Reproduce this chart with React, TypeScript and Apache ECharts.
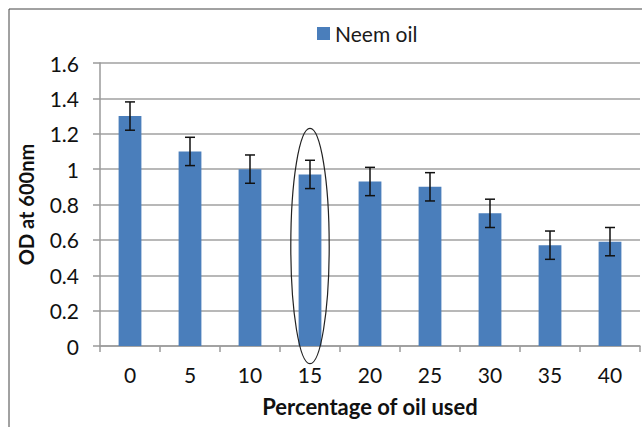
import React, { useEffect, useRef } from "react";
import * as echarts from "echarts";

const categories = ["0", "5", "10", "15", "20", "25", "30", "35", "40"];
const odValues = [1.3, 1.1, 1.0, 0.97, 0.93, 0.9, 0.75, 0.57, 0.59];
const errorValues = [0.08, 0.08, 0.08, 0.08, 0.08, 0.08, 0.08, 0.08, 0.08];
const seriesName = "Neem oil";
const xTitle = "Percentage of oil used";
const yTitle = "OD at 600nm";
const highlightCategory = 3;
const ellipseTopValue = 1.23;
const ellipseBottomValue = -0.1;

const FONT = "Lato, 'Open Sans', sans-serif";

export default function App() {
  const ref = useRef<HTMLDivElement>(null);

  useEffect(() => {
    if (!ref.current) return;
    const chart = echarts.init(ref.current, null, { renderer: "svg" });
    const errData = odValues.map((v, i) => [i, v - errorValues[i], v + errorValues[i]]);
    const frame = {
      id: "frame",
      type: "rect",
      silent: true,
      shape: { x: 9, y: 9, width: 700, height: 500 },
      style: { fill: "none", stroke: "#444", lineWidth: 1 },
    };
    chart.setOption({
      animation: false,
      backgroundColor: "#ffffff",
      textStyle: { fontFamily: FONT },
      legend: {
        top: 18,
        left: 312,
        itemWidth: 13,
        itemHeight: 13,
        itemGap: 6,
        icon: "rect",
        data: [seriesName],
        textStyle: { fontSize: 21, color: "#1a1a1a", fontFamily: FONT },
      },
      grid: { left: 100, right: 2, top: 63, bottom: 81, containLabel: false },
      xAxis: {
        type: "category",
        data: categories,
        name: xTitle,
        nameLocation: "middle",
        nameGap: 49,
        nameTextStyle: { fontSize: 22, fontWeight: "bold", color: "#111", fontFamily: FONT },
        axisLine: { lineStyle: { color: "#9a9a9a", width: 1.5 } },
        axisTick: { show: true, length: 6, alignWithLabel: false, lineStyle: { color: "#9a9a9a", width: 1.5 } },
        axisLabel: { fontSize: 21, color: "#111", margin: 18, fontFamily: FONT },
      },
      yAxis: {
        type: "value",
        min: 0,
        max: 1.6,
        interval: 0.2,
        name: yTitle,
        nameLocation: "middle",
        nameGap: 64,
        nameRotate: 90,
        nameTextStyle: { fontSize: 20, fontWeight: "bold", color: "#111", fontFamily: FONT },
        axisLine: { show: true, lineStyle: { color: "#9a9a9a", width: 1.5 } },
        axisTick: { show: true, length: 7, lineStyle: { color: "#9a9a9a", width: 1.5 } },
        axisLabel: {
          fontSize: 21,
          color: "#111",
          margin: 21,
          fontFamily: FONT,
          formatter: (v: number) => String(Math.round(v * 10) / 10),
        },
        splitLine: { lineStyle: { color: "#a0a0a0", width: 1.5 } },
      },
      series: [
        {
          name: seriesName,
          type: "bar",
          data: odValues,
          barWidth: "38%",
          itemStyle: { color: "#4a7ebb" },
        },
        {
          type: "custom",
          name: "error",
          data: errData,
          z: 10,
          renderItem: (params: any, api: any) => {
            const i = api.value(0);
            const lo = api.coord([i, api.value(1)]);
            const hi = api.coord([i, api.value(2)]);
            const hw = 5;
            const style = { stroke: "#111", lineWidth: 1.5 };
            return {
              type: "group",
              children: [
                { type: "line", shape: { x1: lo[0], y1: lo[1], x2: hi[0], y2: hi[1] }, style },
                { type: "line", shape: { x1: lo[0] - hw, y1: lo[1], x2: lo[0] + hw, y2: lo[1] }, style },
                { type: "line", shape: { x1: hi[0] - hw, y1: hi[1], x2: hi[0] + hw, y2: hi[1] }, style },
              ],
            };
          },
        },
      ],
      graphic: [frame],
    });

    const top = chart.convertToPixel({ xAxisIndex: 0, yAxisIndex: 0 }, [highlightCategory, ellipseTopValue]) as number[];
    const bot = chart.convertToPixel({ xAxisIndex: 0, yAxisIndex: 0 }, [highlightCategory, ellipseBottomValue]) as number[];
    const c0 = chart.convertToPixel({ xAxisIndex: 0 }, 0) as unknown as number;
    const c1 = chart.convertToPixel({ xAxisIndex: 0 }, 1) as unknown as number;
    const catW = Math.abs(c1 - c0);
    chart.setOption({
      graphic: [
        frame,
        {
          id: "ellipse",
          type: "ellipse",
          silent: true,
          z: 20,
          shape: { cx: top[0], cy: (top[1] + bot[1]) / 2, rx: catW * 0.32, ry: (bot[1] - top[1]) / 2 },
          style: { fill: "none", stroke: "#222", lineWidth: 1.2 },
        },
      ],
    });

    return () => chart.dispose();
  }, []);

  return (
    <div
      ref={ref}
      style={{ position: "fixed", left: 0, top: 0, width: 642, height: 427 }}
    />
  );
}
